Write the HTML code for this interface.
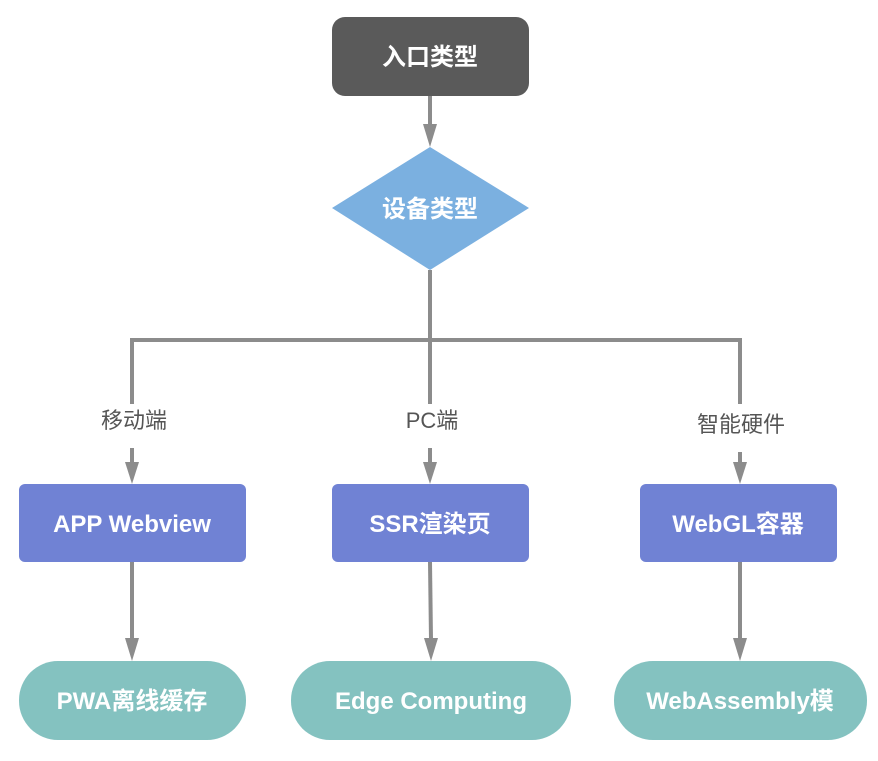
<!DOCTYPE html>
<html><head><meta charset="utf-8"><style>
html,body{margin:0;padding:0;background:#fff;}
svg text{font-family:"Liberation Sans","Noto Sans CJK SC",sans-serif;}
</style></head><body>
<svg width="878" height="756" viewBox="0 0 878 756" xmlns="http://www.w3.org/2000/svg">
<defs>
<marker id="a" markerWidth="14" markerHeight="22" refX="7" refY="22" orient="auto-start-reverse" markerUnits="userSpaceOnUse" viewBox="0 0 14 22">
</marker>
</defs>
<g stroke="#8c8c8c" stroke-width="4" fill="none">
<line x1="430" y1="96" x2="430" y2="126"/>
<line x1="430" y1="270" x2="430" y2="340"/>
<polyline points="132,404 132,340 740,340 740,404"/>
<line x1="430" y1="340" x2="430" y2="404"/>
<line x1="132" y1="448" x2="132" y2="464"/>
<line x1="430" y1="448" x2="430" y2="464"/>
<line x1="740" y1="452" x2="740" y2="464"/>
<line x1="132" y1="562" x2="132" y2="640"/>
<line x1="430" y1="562" x2="431" y2="640"/>
<line x1="740" y1="562" x2="740" y2="640"/>
</g>
<g fill="#8c8c8c">
<polygon points="423,124 437,124 430,147"/>
<polygon points="125,462 139,462 132,484"/>
<polygon points="423,462 437,462 430,484"/>
<polygon points="733,462 747,462 740,484"/>
<polygon points="125,638 139,638 132,661"/>
<polygon points="424,638 438,638 431,661"/>
<polygon points="733,638 747,638 740,661"/>
</g>
<rect x="332" y="17" width="197" height="79" rx="13" fill="#5a5a5a"/>
<polygon points="430,147 529,208 430,270 332,208" fill="#7bb0e0"/>
<rect x="19" y="484" width="227" height="78" rx="6" fill="#7082d4"/>
<rect x="332" y="484" width="197" height="78" rx="6" fill="#7082d4"/>
<rect x="640" y="484" width="197" height="78" rx="6" fill="#7082d4"/>
<rect x="19" y="661" width="227" height="79" rx="39" fill="#84c2c0"/>
<rect x="291" y="661" width="280" height="79" rx="39" fill="#84c2c0"/>
<rect x="614" y="661" width="253" height="79" rx="39" fill="#84c2c0"/>
<g fill="#fff" font-weight="bold" font-size="24" text-anchor="middle">
<text x="430" y="65">入口类型</text>
<text x="430" y="217">设备类型</text>
<text x="132" y="532">APP Webview</text>
<text x="430" y="532">SSR渲染页</text>
<text x="738" y="532">WebGL容器</text>
<text x="132" y="709">PWA离线缓存</text>
<text x="431" y="709">Edge Computing</text>
<text x="740" y="709">WebAssembly模</text>
</g>
<g fill="#555" font-size="22" text-anchor="middle">
<rect x="80" y="404" width="110" height="44" fill="#fff"/>
<text x="134" y="428">移动端</text>
<text x="432" y="428">PC端</text>
<text x="741" y="432">智能硬件</text>
</g>
</svg>
</body></html>
